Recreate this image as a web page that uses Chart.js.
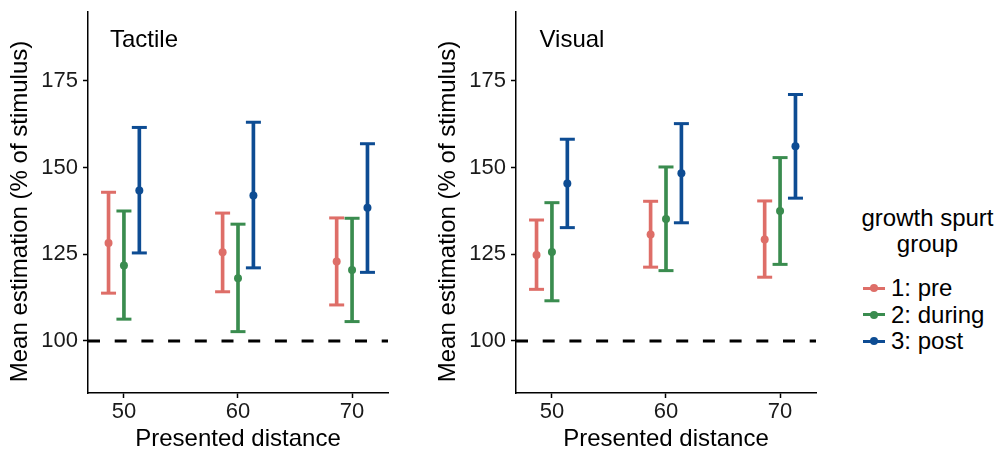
<!DOCTYPE html>
<html><head><meta charset="utf-8">
<script src="https://cdn.jsdelivr.net/npm/chart.js@4.4.1/dist/chart.umd.min.js"></script>
<style>
html,body{margin:0;padding:0;background:#fff;}
body{width:1002px;height:454px;position:relative;overflow:hidden;font-family:"Liberation Sans",Arial,sans-serif;}
.panel{position:absolute;top:0;width:400px;height:454px;}
.lg{position:absolute;font-size:24px;color:#000;white-space:nowrap;}
.lgtitle{left:840px;width:175px;text-align:center;line-height:26px;top:205px;}
.lgitem{left:863px;height:26px;line-height:26px;}
.key{position:absolute;left:0;top:0;width:22px;height:26px;}
.key .ln{position:absolute;left:0;top:11.5px;width:22px;height:3px;}
.key .dt{position:absolute;left:7px;top:9px;width:8px;height:8px;border-radius:50%;}
.lgitem .tx{position:absolute;left:28px;top:0;}
</style></head><body>
<div class="panel" style="left:0"><canvas id="c1" width="400" height="454"></canvas></div>
<div class="panel" style="left:428px"><canvas id="c2" width="400" height="454"></canvas></div>
<div id="legend"></div>
<script>
// ---- data ----
const distances = [50, 60, 70];
const groups = ['1: pre', '2: during', '3: post'];
const groupColors = ['#DE6E68', '#3A8C4F', '#0D4C93'];
const yTicks = [100, 125, 150, 175];
const referenceLevel = 100;
const dodgeOffsets = [-1.35, 0, 1.35];
const panelNames = ['Tactile', 'Visual'];
const xTitle = 'Presented distance';
const yTitle = 'Mean estimation (% of stimulus)';
const legendTitle = ['growth spurt', 'group'];

const tactilePreMean = [128.3, 125.6, 122.9];
const tactilePreLow = [113.8, 114.2, 110.4];
const tactilePreHigh = [142.9, 136.9, 135.5];
const tactileDuringMean = [121.8, 118.1, 120.5];
const tactileDuringLow = [106.3, 102.7, 105.6];
const tactileDuringHigh = [137.5, 133.7, 135.4];
const tactilePostMean = [143.4, 142.0, 138.4];
const tactilePostLow = [125.4, 121.1, 119.8];
const tactilePostHigh = [161.6, 163.1, 156.9];

const visualPreMean = [124.8, 130.7, 129.3];
const visualPreLow = [114.9, 121.3, 118.4];
const visualPreHigh = [134.9, 140.3, 140.4];
const visualDuringMean = [125.7, 135.2, 137.5];
const visualDuringLow = [111.6, 120.3, 122.1];
const visualDuringHigh = [139.9, 150.2, 152.9];
const visualPostMean = [145.4, 148.4, 156.2];
const visualPostLow = [132.7, 134.1, 141.2];
const visualPostHigh = [158.2, 162.7, 171.1];

const xMin = 46.85, xMax = 73.15, yMin = 85, yMax = 194.9;

const FONT = '"Liberation Sans", Arial, sans-serif';

function buildDatasets(means, lows, highs) {
  const pts = [], caps = [], bars = [];
  groups.forEach((g, gi) => {
    const xs = distances.map(d => d + dodgeOffsets[gi]);
    pts.push({
      type: 'scatter', label: g,
      data: xs.map((x, i) => ({x, y: means[gi][i]})),
      pointRadius: 4, pointHoverRadius: 4, pointBorderWidth: 0,
      backgroundColor: groupColors[gi], borderColor: groupColors[gi]
    });
    caps.push({
      type: 'scatter', label: g + ' caps',
      data: xs.map((x, i) => ({x, y: lows[gi][i]})).concat(xs.map((x, i) => ({x, y: highs[gi][i]}))),
      pointStyle: 'line', pointRadius: 7.5, pointHoverRadius: 7.5, pointBorderWidth: 3, pointHoverBorderWidth: 3,
      borderColor: groupColors[gi], backgroundColor: groupColors[gi]
    });
    bars.push({
      type: 'bar', label: g + ' range',
      data: xs.map((x, i) => ({x, y: [lows[gi][i], highs[gi][i]]})),
      grouped: false, maxBarThickness: 3, barPercentage: 1, categoryPercentage: 1,
      backgroundColor: groupColors[gi], borderWidth: 0
    });
  });
  const ref = {
    type: 'line', label: 'reference',
    data: [{x: xMin, y: referenceLevel}, {x: xMax, y: referenceLevel}],
    borderColor: '#000', borderWidth: 3, borderDash: [12, 14.7], pointRadius: 0, fill: false
  };
  return pts.concat(caps, bars, [ref]);
}

const decorPlugin = {
  id: 'decor',
  afterDraw(chart, args, opts) {
    const ctx = chart.ctx, ca = chart.chartArea;
    ctx.save();
    ctx.fillStyle = '#000';
    ctx.font = '24px ' + FONT;
    ctx.textBaseline = 'alphabetic';
    ctx.textAlign = 'left';
    ctx.fillText(opts.panel, ca.left + opts.labelDx, ca.top + 35);
    ctx.translate(chart.scales.y.left + 26.5, (ca.top + ca.bottom) / 2 + 9);
    ctx.rotate(-Math.PI / 2);
    ctx.textAlign = 'center';
    ctx.fillText(yTitle, 0, 0);
    ctx.restore();
  }
};

function makeChart(id, panel, labelDx, means, lows, highs) {
  return new Chart(document.getElementById(id), {
    type: 'scatter',
    data: {datasets: buildDatasets(means, lows, highs)},
    plugins: [decorPlugin],
    options: {
      responsive: false, animation: false, devicePixelRatio: 1,
      layout: {padding: {left: 0, top: 12, right: 12, bottom: 0}},
      plugins: {legend: {display: false}, tooltip: {enabled: false}, decor: {panel, labelDx}},
      events: [],
      scales: {
        x: {
          type: 'linear', min: xMin, max: xMax, offset: false,
          afterBuildTicks: s => { s.ticks = distances.map(v => ({value: v})); },
          afterFit: s => { s.height = 61; s.paddingLeft = 0; s.paddingRight = 0; },
          grid: {display: true, drawOnChartArea: false, drawTicks: true, tickLength: 5, tickColor: '#000', tickWidth: 1.5, offset: false},
          border: {display: true, color: '#000', width: 1.5},
          ticks: {color: '#1a1a1a', font: {family: FONT, size: 22}, padding: 1, maxRotation: 0},
          title: {display: true, text: xTitle, color: '#000', font: {family: FONT, size: 24}, padding: {top: 0, bottom: 0}}
        },
        y: {
          type: 'linear', min: yMin, max: yMax, beginAtZero: false,
          afterBuildTicks: s => { s.ticks = yTicks.map(v => ({value: v})); },
          afterFit: s => { s.width = 88; s.paddingTop = 0; s.paddingBottom = 0; },
          grid: {display: true, drawOnChartArea: false, drawTicks: true, tickLength: 5, tickColor: '#000', tickWidth: 1.5},
          border: {display: true, color: '#000', width: 1.5},
          ticks: {color: '#1a1a1a', font: {family: FONT, size: 22}, padding: 5}
        }
      }
    }
  });
}

makeChart('c1', panelNames[0], 22,
  [tactilePreMean, tactileDuringMean, tactilePostMean],
  [tactilePreLow, tactileDuringLow, tactilePostLow],
  [tactilePreHigh, tactileDuringHigh, tactilePostHigh]);
makeChart('c2', panelNames[1], 23.5,
  [visualPreMean, visualDuringMean, visualPostMean],
  [visualPreLow, visualDuringLow, visualPostLow],
  [visualPreHigh, visualDuringHigh, visualPostHigh]);

// legend
const lg = document.getElementById('legend');
const t = document.createElement('div');
t.className = 'lg lgtitle';
t.innerHTML = legendTitle.join('<br>');
lg.appendChild(t);
const rowCenters = [288, 314.5, 341];
groups.forEach((g, gi) => {
  const it = document.createElement('div');
  it.className = 'lg lgitem';
  it.style.top = (rowCenters[gi] - 13) + 'px';
  it.innerHTML = '<span class="key"><span class="ln" style="background:' + groupColors[gi] + '"></span><span class="dt" style="background:' + groupColors[gi] + '"></span></span><span class="tx">' + g + '</span>';
  lg.appendChild(it);
});
</script>
</body></html>
